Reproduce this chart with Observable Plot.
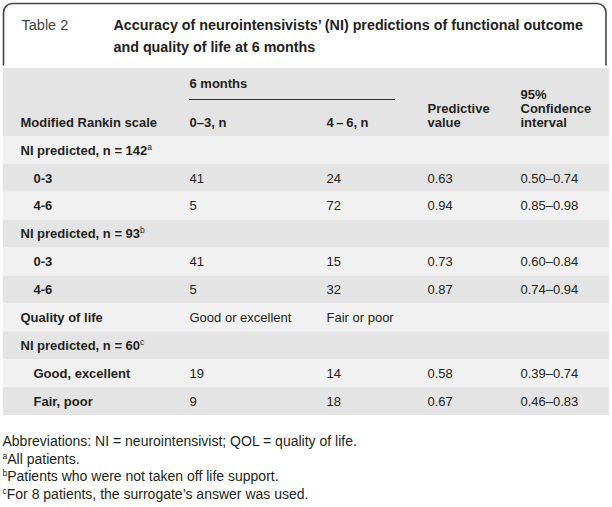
<!DOCTYPE html>
<html>
<head>
<meta charset="utf-8">
<script src="https://cdn.jsdelivr.net/npm/d3@7"></script>
<script src="https://cdn.jsdelivr.net/npm/@observablehq/plot@0.6"></script>
<style>
  html, body { margin: 0; padding: 0; background: #fff; }
</style>
</head>
<body>
<div id="chart"></div>
<script>
// ---- content ----
const tableLabel = "Table 2";
const titleLines = [
  "Accuracy of neurointensivists\u2019 (NI) predictions of functional outcome",
  "and quality of life at 6 months"
];
const headerGroup = "6 months";
const headerStub = "Modified Rankin scale";
const headerCols = ["0\u20133, n", "4\u2009\u2013\u20096, n"];
const headerPredictive = ["Predictive", "value"];
const headerCI = ["95%", "Confidence", "interval"];

const rowLabels = [
  "NI predicted, n = 142^a", "0-3", "4-6",
  "NI predicted, n = 93^b", "0-3", "4-6",
  "Quality of life",
  "NI predicted, n = 60^c", "Good, excellent", "Fair, poor"
];
const rowKinds = ["group", "sub", "sub", "group", "sub", "sub", "section", "group", "sub", "sub"];
const good03 = ["", "41", "5", "", "41", "5", "Good or excellent", "", "19", "9"];
const poor46 = ["", "24", "72", "", "15", "32", "Fair or poor", "", "14", "18"];
const predictive = ["", "0.63", "0.94", "", "0.73", "0.87", "", "", "0.58", "0.67"];
const confInt = ["", "0.50\u20130.74", "0.85\u20130.98", "", "0.60\u20130.84", "0.74\u20130.94", "", "", "0.39\u20130.74", "0.46\u20130.83"];

const footnotes = [
  "Abbreviations: NI = neurointensivist; QOL = quality of life.",
  "^aAll patients.",
  "^bPatients who were not taken off life support.",
  "^cFor 8 patients, the surrogate\u2019s answer was used."
];

// ---- layout ----
const W = 612, H = 507;
const FONT = "'Liberation Sans', Arial, Helvetica, sans-serif";
const INK = "#231f20";
const DARK = "#e4e4e4", LIGHT = "#f1f1f1";
const tableX1 = 3, tableX2 = 609;
const headerY1 = 68, rowsY0 = 136, rowH = 27.9;
const colX = {stub: 20, sub: 33, c1: 189, c2: 326, c3: 427, c4: 520};

const cells = [];
// title
cells.push({text: tableLabel, x: 21, y: 25, size: 14.5, bold: false, fill: "#444"});
titleLines.forEach((t, i) => cells.push({text: t, x: 113, y: 25 + 22 * i, size: 14.3, bold: true, fill: "#222"}));
// header
cells.push({text: headerGroup, x: colX.c1, y: 83, size: 13, bold: true, fill: INK});
cells.push({text: headerStub, x: colX.stub, y: 122, size: 13, bold: true, fill: INK});
headerCols.forEach((t, i) => cells.push({text: t, x: i ? colX.c2 : colX.c1, y: 122, size: 13, bold: true, fill: INK}));
headerPredictive.forEach((t, i) => cells.push({text: t, x: colX.c3, y: 108 + 14 * i, size: 13, bold: true, fill: INK}));
headerCI.forEach((t, i) => cells.push({text: t, x: colX.c4, y: 94 + 14 * i, size: 13, bold: true, fill: INK}));
// body
const rowBands = rowLabels.map((_, i) => ({
  y1: rowsY0 + rowH * i, y2: rowsY0 + rowH * (i + 1), fill: i % 2 ? DARK : LIGHT
}));
rowLabels.forEach((lab, i) => {
  const y = rowsY0 + rowH * (i + 0.5);
  cells.push({text: lab, x: rowKinds[i] === "sub" ? colX.sub : colX.stub, y, size: 13, bold: true, fill: INK});
  [[good03, colX.c1], [poor46, colX.c2], [predictive, colX.c3], [confInt, colX.c4]].forEach(([arr, x]) => {
    if (arr[i]) cells.push({text: arr[i], x, y, size: 13, bold: false, fill: INK});
  });
});
// footnotes
footnotes.forEach((t, i) => cells.push({text: t, x: 2, y: 441 + 17.7 * i, size: 14, bold: false, fill: INK}));

const textMark = (bold) => Plot.text(cells.filter(d => d.bold === bold), {
  x: "x", y: "y", text: "text", textAnchor: "start",
  fontSize: d => d.size, fontWeight: bold ? "bold" : "normal", fill: d => d.fill
});

const chart = Plot.plot({
  width: W, height: H,
  marginTop: 0, marginRight: 0, marginBottom: 0, marginLeft: 0,
  x: {type: "identity", axis: null},
  y: {type: "identity", axis: null},
  style: {fontFamily: FONT, background: "#fff", overflow: "visible"},
  marks: [
    // title box with rounded top corners
    Plot.rect([{x1: 3.5, x2: 606, y1: 3.5, y2: 90}], {x1: "x1", x2: "x2", y1: "y1", y2: "y2", rx: 9, fill: "#fff", stroke: "#444", strokeWidth: 1.6}),
    Plot.rect([{x1: 0, x2: W, y1: 65.5, y2: 100}], {x1: "x1", x2: "x2", y1: "y1", y2: "y2", fill: "#fff"}),
    // header band
    Plot.rect([{x1: tableX1, x2: tableX2, y1: headerY1, y2: rowsY0}], {x1: "x1", x2: "x2", y1: "y1", y2: "y2", fill: DARK}),
    // body bands
    Plot.rect(rowBands, {x1: tableX1, x2: tableX2, y1: "y1", y2: "y2", fill: "fill"}),
    // spanner rule
    Plot.ruleY([{y: 99, x1: colX.c1, x2: 395}], {y: "y", x1: "x1", x2: "x2", stroke: "#333", strokeWidth: 1}),
    // texts
    textMark(true),
    textMark(false)
  ]
});

// superscripts: "^a" -> raised small letter
chart.querySelectorAll("text").forEach(t => {
  if (t.children.length === 0 && t.textContent.includes("^")) {
    const parts = t.textContent.split(/\^(\w)/);
    t.textContent = "";
    let raised = false;
    parts.forEach((p, k) => {
      if (k % 2 === 1) {
        const ts = document.createElementNS("http://www.w3.org/2000/svg", "tspan");
        ts.setAttribute("dy", "-5");
        ts.setAttribute("font-size", "8.5");
        ts.setAttribute("font-weight", "normal");
        ts.textContent = p;
        t.appendChild(ts);
        raised = true;
      } else if (p) {
        const ts = document.createElementNS("http://www.w3.org/2000/svg", "tspan");
        if (raised) { ts.setAttribute("dy", "5"); raised = false; }
        ts.textContent = p;
        t.appendChild(ts);
      }
    });
  }
});

document.getElementById("chart").appendChild(chart);
</script>
</body>
</html>
